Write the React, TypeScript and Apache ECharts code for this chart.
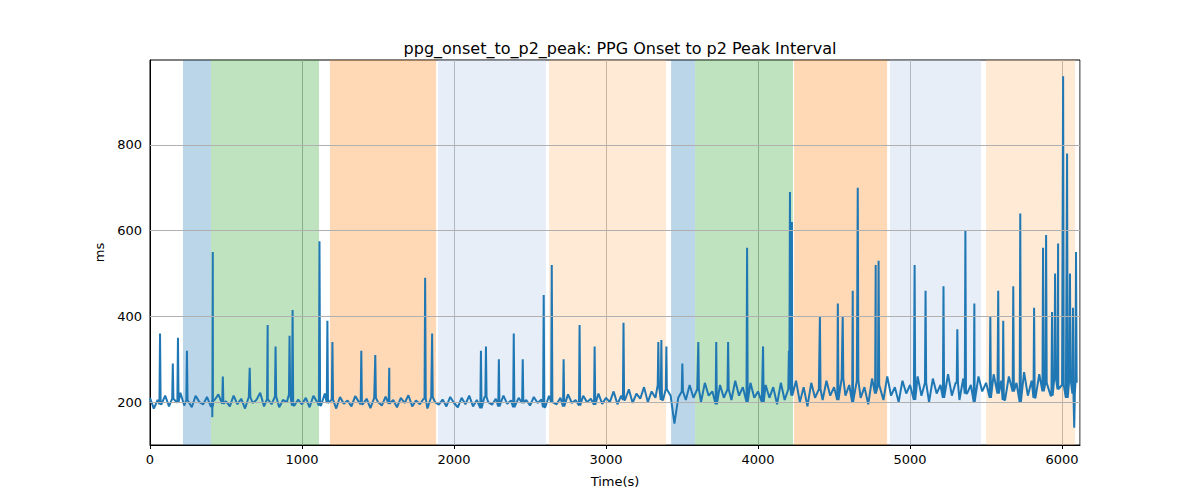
import React, { useEffect, useRef } from "react";
import * as echarts from "echarts";

const BASE_STEP = 25;
const baseline = [
  210,185,205,195,215,190,208,200,222,192,205,188,215,200,195,212,190,205,218,196,
  202,190,215,195,208,185,212,198,205,222,190,207,195,213,188,205,200,218,192,206,
  195,210,188,215,200,192,220,198,206,185,212,196,204,190,214,200,195,208,186,210,
  200,192,213,196,205,188,210,198,216,190,204,195,208,185,212,200,194,206,190,212,
  198,188,210,195,215,190,205,186,212,200,194,208,190,215,196,204,188,210,198,205,
  192,212,198,206,188,215,200,195,210,190,218,198,205,192,215,200,208,194,220,196,
  210,200,225,195,215,205,230,198,220,208,235,200,225,210,240,205,230,215,160,210,
  225,205,240,210,230,200,245,215,225,195,240,210,230,205,250,215,235,200,245,210,
  225,200,240,210,235,195,245,205,230,215,250,200,235,190,245,210,230,205,250,215,
  235,205,255,215,240,200,250,210,235,195,255,220,240,205,260,215,235,200,250,220,
  240,205,260,215,245,200,255,220,240,210,265,215,245,205,255,220,240,200,260,225,
  245,210,265,220,250,205,260,225,245,200,270,215,250,210,265,225,245,215,260,230,
  240,210,255,220,245,
];
const spikeTimes = [66,150,184,243,410,413,479,656,774,826,918,938,1115,1167,1200,1390,1482,1574,1810,1856,2177,2210,2295,2393,2452,2590,2643,2721,2826,2925,3115,3344,3364,3397,3450,3502,3607,3725,3803,3928,4033,4203,4210,4223,4407,4525,4557,4623,4656,4774,4793,5030,5102,5220,5311,5364,5423,5528,5580,5613,5679,5725,5816,5875,5895,5934,5954,5974,6007,6033,6052,6072,6080,6092];
const spikeValues = [360,290,350,320,165,550,260,280,380,330,355,415,575,390,340,320,310,280,490,360,320,330,300,360,300,450,520,300,380,330,385,340,345,330,150,290,340,340,340,560,330,320,690,620,400,430,400,460,700,520,530,520,460,470,370,600,430,400,460,390,470,640,420,560,590,410,500,570,960,780,500,420,140,550];

const bandStarts = [217,401,1184,1895,2625,3428,3586,4237,4868,5500];
const bandEnds = [401,1112,1882,2605,3395,3586,4230,4849,5467,6086];
const bandColors = [
  "rgba(31,119,180,0.3)","rgba(44,160,44,0.3)","rgba(255,127,14,0.3)","rgba(174,199,232,0.3)","rgba(255,187,120,0.3)",
  "rgba(31,119,180,0.3)","rgba(44,160,44,0.3)","rgba(255,127,14,0.3)","rgba(174,199,232,0.3)","rgba(255,187,120,0.3)",
];
const yGridValues = [200, 400, 600, 800];

export default function App() {
  const ref = useRef<HTMLDivElement>(null);
  useEffect(() => {
    const chart = echarts.init(ref.current!, undefined, { renderer: "svg" });
    const pts: [number, number][] = baseline.map((v, i) => [i * BASE_STEP, v]);
    spikeTimes.forEach((t, i) => {
      const b = baseline[Math.min(baseline.length - 1, Math.round(t / BASE_STEP))];
      pts.push([t - 4, b]);
      pts.push([t, spikeValues[i]]);
      pts.push([t + 4, b]);
    });
    pts.sort((a, b) => a[0] - b[0]);
    const font = { fontFamily: "DejaVu Sans", fontSize: 13, color: "#000" };
    chart.setOption({
      animation: false,
      title: {
        text: "ppg_onset_to_p2_peak: PPG Onset to p2 Peak Interval",
        left: 615, top: 35, textAlign: "center",
        textStyle: { fontFamily: "DejaVu Sans", fontSize: 16, fontWeight: "normal", color: "#000" },
      },
      grid: { left: 150, right: 120, top: 60, bottom: 55, show: true, borderColor: "#000", borderWidth: 1 },
      xAxis: {
        type: "value", min: 0, max: 6118, interval: 1000,
        name: "Time(s)", nameLocation: "middle", nameGap: 30, nameTextStyle: font,
        axisLabel: { ...font, showMaxLabel: false, formatter: (v: number) => String(v) },
        axisLine: { lineStyle: { color: "#000" } },
        axisTick: { lineStyle: { color: "#000" }, length: 4 },
        splitLine: { show: true, lineStyle: { color: "#b0b0b0", width: 1 } },
      },
      yAxis: {
        type: "value", min: 100, max: 998, interval: 100,
        name: "ms", nameLocation: "middle", nameGap: 42, nameTextStyle: font,
        axisLabel: { ...font, formatter: (v: number) => (yGridValues.includes(v) ? String(v) : "") },
        axisLine: { show: true, lineStyle: { color: "#000" } },
        axisTick: { show: false },
        splitLine: { show: false },
      },
      series: [
        {
          type: "line", data: pts, showSymbol: false,
          lineStyle: { color: "#1f77b4", width: 2 },
          markArea: {
            silent: true,
            data: bandStarts.map((s, i) => [
              { xAxis: s, itemStyle: { color: bandColors[i] } },
              { xAxis: bandEnds[i] },
            ]),
          },
          markLine: {
            silent: true, symbol: "none", label: { show: false },
            lineStyle: { color: "#b0b0b0", width: 1, type: "solid" },
            data: yGridValues.map((v) => ({ yAxis: v })),
          },
        },
      ],
    });
    return () => chart.dispose();
  }, []);
  return <div ref={ref} style={{ position: "absolute", left: 0, top: 0, width: 1200, height: 500 }} />;
}
